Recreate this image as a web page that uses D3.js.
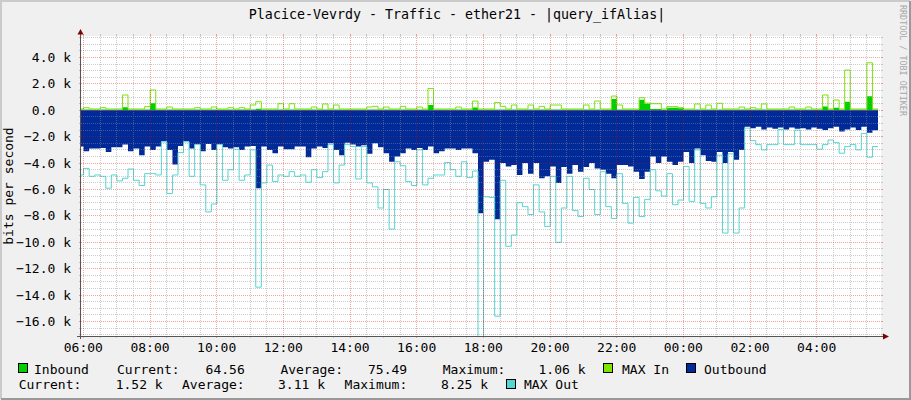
<!DOCTYPE html>
<html>
<head>
<meta charset="utf-8">
<script src="https://cdn.jsdelivr.net/npm/d3@7"></script>
<style>
  html, body { margin: 0; padding: 0; background: #f0f0f0; }
  svg text { font-family: "DejaVu Sans Mono", monospace; fill: #000; }
</style>
</head>
<body>
<div id="chart"></div>
<script>
const width = 911;
const height = 400;

const colorBack = '#f0f0f0';
const colorInbound = '#00cf00';
const colorMaxIn = '#7ee600';
const colorOutbound = '#002a97';
const colorMaxOut = '#55d6d3';

// 10 minute samples, oldest first, bits per second
const inbound = [
  60,60,60,60,60,60,60,60,230,60, 60,60,60,530,60,60,60,60,60,60,
  60,60,60,60,60,60,60,60,60,60, 60,60,120,60,60,60,
  60,60,60,60,60,60,60,60,60,60, 60,60,60,60,60,60,60,60,60,60,
  60,60,60,60,60,60,60,400,60,60, 60,60,60,60,60,220,
  60,60,60,60,60,60,60,60,60,60, 60,60,60,60,60,60,60,60,60,60,
  60,60,60,60,850,60,60,60,60,800, 500,100,100,60,200,200,
  150,60,60,60,60,60,60,60,60,60, 60,60,60,60,60,60,60,60,60,60,
  60,60,60,60,60,60,280,60,200,60, 650,60,60,60,1060,65
];
const maxIn = [
  100,200,100,100,200,100,100,100,1160,100, 100,100,280,1540,100,100,250,100,100,100,
  100,200,100,100,250,100,100,200,100,200, 100,400,650,100,100,100,
  500,100,500,100,100,100,250,100,480,100, 400,100,100,100,100,100,250,300,100,250,
  100,100,300,100,100,250,100,1650,100,100, 100,100,250,100,100,700,
  100,100,100,600,300,100,400,100,100,400, 100,300,100,400,400,100,100,100,100,400,
  100,700,100,100,1080,400,100,100,100,950, 550,500,500,100,280,280,
  200,100,100,480,100,400,100,530,100,100, 100,250,100,200,100,480,100,100,100,100,
  250,100,100,250,100,100,1160,100,780,100, 3050,100,100,100,3600,100
];
const outbound = [
  2750,3100,2900,2900,2850,3150,2800,2800,2600,3100, 2900,3400,2750,3000,2750,2350,3000,4100,2700,2350,
  2900,2550,3100,2550,3000,2550,2800,2900,2800,3000, 2750,2700,5900,2750,3000,3250,
  2750,2950,2950,2750,2750,3550,2900,2750,2850,2500, 3000,3400,2450,2600,2750,2650,3300,2500,2800,3250,
  3900,3500,3250,2900,3000,2850,3000,2750,3250,3100, 2900,2900,3000,2900,2900,3250,
  7800,3900,3750,8250,4000,4250,4150,4900,4000,4800, 4000,5150,5000,4250,5500,4300,4800,4150,4650,4300,
  4000,4400,4500,4800,5150,4150,4150,4250,4650,5200, 4650,3500,4000,3500,3900,4150,
  3900,3150,4000,2900,3400,3850,3900,3150,4000,3150, 3750,3000,1250,1350,1250,1450,1300,1400,1300,1450,
  1300,1400,1350,1450,1300,1400,1500,1350,1250,1600, 1450,1300,1500,1250,1700,1520
];
const maxOut = [
  4900,4400,5000,4900,5000,5900,4900,5350,5150,4450, 5300,5700,4800,4800,4900,2400,6300,4900,3200,2400,
  5000,2600,5650,7700,7100,2600,5300,4500,2950,5300, 4900,3000,13400,5500,4150,5400,
  4900,5000,4650,5000,4900,5450,4500,5100,4650,2600, 5500,4150,2600,2750,5200,2750,5500,5800,7400,6000,
  9000,3900,4200,5400,5700,3000,5650,5150,4900,4900, 3950,4500,5000,3900,5100,4600,
  18000,6550,6600,15600,5300,10300,9450,7000,7300,7900, 5650,7700,8800,5000,10000,7400,5000,7600,8050,5150,
  6000,7900,4650,7300,8200,4800,7050,8550,6600,8050, 6750,4500,6100,6500,4800,7150,
  6800,4250,6900,3000,7050,7400,6550,3400,9300,3300, 9300,7400,1350,2300,2600,3000,2600,2600,1450,2600,
  2600,1500,2600,2600,2600,2950,2600,2250,2450,3250, 2750,2600,3000,1750,3550,2750
];

const yTicks = [4000, 2000, 0, -2000, -4000, -6000, -8000, -10000, -12000, -14000, -16000];
const inStats = ['64.56', '75.49', '1.06 k'];
const outStats = ['1.52 k', '3.11 k', '8.25 k'];

const title = 'Placice-Vevrdy - Traffic - ether21 - |query_ifAlias|';

const plotLeft = 81, plotRight = 881, plotTop = 36, plotBottom = 336;

const plotStart = new Date(2021, 0, 1, 5, 55, 48);
const plotEnd = d3.timeSecond.offset(plotStart, 86400);
const dataStart = d3.timeSecond.offset(plotStart, -324);
const stepSec = 600;

const x = d3.scaleTime().domain([plotStart, plotEnd]).range([plotLeft, plotRight]);
const y = d3.scaleLinear().domain([-17100, 5630]).range([plotBottom, plotTop]);

const svg = d3.select('#chart')
    .append('svg')
    .attr('width', width)
    .attr('height', height);

const defs = svg.append('defs');

// background and frame
svg.append('rect').attr('width', width).attr('height', height).attr('fill', colorBack);
svg.append('path').attr('d', 'M1,399V1H910').attr('fill', 'none').attr('stroke', '#cbcbcb').attr('stroke-width', 2);
svg.append('path').attr('d', 'M910,1V399H1').attr('fill', 'none').attr('stroke', '#999999').attr('stroke-width', 2);

svg.append('rect')
    .attr('x', plotLeft).attr('y', plotTop)
    .attr('width', plotRight - plotLeft).attr('height', plotBottom - plotTop)
    .attr('fill', '#ffffff');

defs.append('clipPath').attr('id', 'plot-clip')
  .append('rect')
    .attr('x', plotLeft).attr('y', plotTop)
    .attr('width', plotRight - plotLeft).attr('height', plotBottom - plotTop);

function toPoints(vals) {
    const pts = vals.map((v, i) => ({ t: d3.timeSecond.offset(dataStart, i * stepSec), v: v }));
    pts.push({ t: d3.timeSecond.offset(dataStart, vals.length * stepSec), v: vals[vals.length - 1] });
    return pts;
}

const graph = svg.append('g').attr('clip-path', 'url(#plot-clip)');

graph.append('path')
    .datum(toPoints(inbound))
    .attr('d', d3.area().x(d => x(d.t)).y0(y(0)).y1(d => y(d.v)).curve(d3.curveStepAfter))
    .attr('fill', colorInbound);

graph.append('path')
    .datum(toPoints(maxIn))
    .attr('d', d3.line().x(d => x(d.t)).y(d => y(d.v)).curve(d3.curveStepAfter))
    .attr('fill', 'none')
    .attr('stroke', colorMaxIn)
    .attr('stroke-width', 1);

graph.append('path')
    .datum(toPoints(outbound))
    .attr('d', d3.area().x(d => x(d.t)).y0(y(0)).y1(d => y(-d.v)).curve(d3.curveStepAfter))
    .attr('fill', colorOutbound);

graph.append('path')
    .datum(toPoints(maxOut))
    .attr('d', d3.line().x(d => x(d.t)).y(d => y(-d.v)).curve(d3.curveStepAfter))
    .attr('fill', 'none')
    .attr('stroke', colorMaxOut)
    .attr('stroke-width', 1);

// grid, dotted, drawn over the graph like rrdtool does
const gridMinor = 'rgba(143,143,143,0.46)';
const gridMajor = 'rgba(229,0,0,0.36)';

const majorTimes = d3.timeHour.every(2).range(plotStart, plotEnd);
const minorTimes = d3.timeMinute.every(30).range(plotStart, plotEnd)
    .filter(t => !(t.getMinutes() === 0 && t.getHours() % 2 === 0));
const minorValues = d3.range(-17000, 5600, 500).filter(v => v % 2000 !== 0);

// each grid line is a row of 1x1 dots, plus a short solid tick outside the plot on both ends
// (pixel positions truncated like rrdtool does)
function hDots(v) {
    const yy = Math.floor(y(v) + 1e-6);
    let d = `M${plotLeft - 2},${yy}h2v1h-2z M${plotRight},${yy}h2v1h-2z`;
    for (let xx = plotLeft; xx < plotRight; xx += 2) d += `M${xx},${yy}h1v1h-1z`;
    return d;
}
function vDots(t) {
    const xx = Math.floor(x(t) + 1e-6);
    let d = `M${xx},${plotTop - 2}h1v2h-1z M${xx},${plotBottom}h1v2h-1z`;
    for (let yy = plotTop; yy < plotBottom; yy += 2) d += `M${xx},${yy}h1v1h-1z`;
    return d;
}

const grid = svg.append('g').attr('shape-rendering', 'crispEdges');
grid.append('path')
    .attr('d', minorValues.map(hDots).join(' ') + minorTimes.map(vDots).join(' '))
    .attr('fill', gridMinor);
grid.append('path')
    .attr('d', yTicks.map(hDots).join(' ') + majorTimes.map(vDots).join(' '))
    .attr('fill', gridMajor);

// axes and arrows
svg.append('line').attr('x1', 80.5).attr('x2', 80.5).attr('y1', 339).attr('y2', 33)
    .attr('stroke', '#555').attr('stroke-width', 1);
svg.append('line').attr('x1', 77).attr('x2', 884).attr('y1', 336.5).attr('y2', 336.5)
    .attr('stroke', '#555').attr('stroke-width', 1);
svg.append('path').attr('d', 'M77.5,34.5L83.5,34.5L80.5,29Z').attr('fill', '#7f0000');
svg.append('path').attr('d', 'M883,333.5L883,339.5L889,336.5Z').attr('fill', '#7f0000');

// y labels
svg.append('g').selectAll('text')
    .data(yTicks)
    .enter().append('text')
    .attr('x', 71)
    .attr('y', d => y(d) + 4.5)
    .attr('text-anchor', 'end')
    .style('font-size', '13px')
    .style('white-space', 'pre')
    .text(d => d === 0 ? '0.0  ' : d3.format('.1f')(d / 1000) + ' k');

// x labels
const fmt = d3.timeFormat('%H:%M');
svg.append('g').selectAll('text')
    .data(majorTimes)
    .enter().append('text')
    .attr('x', d => x(d))
    .attr('y', 351.5)
    .attr('text-anchor', 'middle')
    .style('font-size', '13px')
    .text(d => fmt(d));

// titles
svg.append('text')
    .attr('x', 457).attr('y', 19)
    .attr('text-anchor', 'middle')
    .style('font-size', '13.3px')
    .text(title);

svg.append('text')
    .attr('transform', 'translate(13,186) rotate(-90)')
    .attr('text-anchor', 'middle')
    .style('font-size', '13px')
    .text('bits per second');

svg.append('text')
    .attr('transform', 'translate(899.5,5) rotate(90)')
    .style('font-size', '8.4px')
    .style('fill', '#a8a8a8')
    .text('RRDTOOL / TOBI OETIKER');

// legend
const legend = svg.append('g').style('font-size', '13px');
function box(bx, by, color) {
    legend.append('rect')
        .attr('x', bx + 0.5).attr('y', by + 0.5)
        .attr('width', 9).attr('height', 9)
        .attr('fill', color).attr('stroke', '#000');
}
function label(lx, ly, s) {
    legend.append('text').attr('x', lx).attr('y', ly).style('white-space', 'pre').text(s);
}
const row1 = 373.5, row2 = 389;
box(18, 363, colorInbound);
label(34, row1, 'Inbound');
label(117, row1, 'Current:');
label(205.6, row1, inStats[0]);
label(280.4, row1, 'Average:');
label(368, row1, inStats[1]);
label(442.8, row1, 'Maximum:');
label(538.5, row1, inStats[2]);
box(603, 363, colorMaxIn);
label(622, row1, 'MAX In');
box(686, 363, colorOutbound);
label(704, row1, 'Outbound');

label(18.7, row2, 'Current:');
label(115.7, row2, outStats[0]);
label(182, row2, 'Average:');
label(278, row2, outStats[1]);
label(344.6, row2, 'Maximum:');
label(441, row2, outStats[2]);
box(506, 379, colorMaxOut);
label(524, row2, 'MAX Out');
</script>
</body>
</html>
